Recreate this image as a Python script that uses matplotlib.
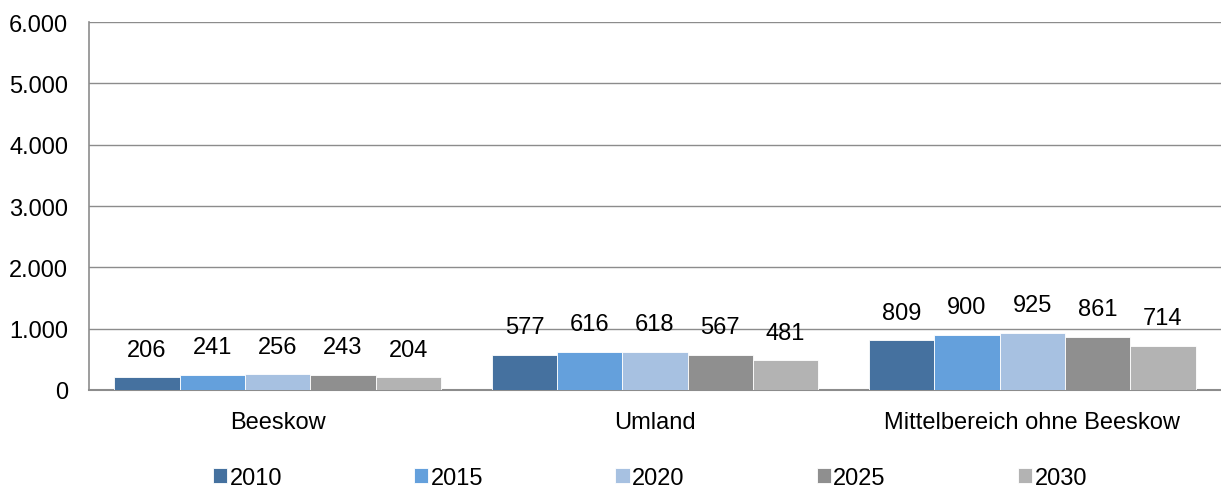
import numpy as np
import matplotlib.pyplot as plt
from matplotlib.ticker import FuncFormatter

plt.rcParams['font.family'] = ['Liberation Sans', 'DejaVu Sans']

categories = ["Beeskow", "Umland", "Mittelbereich ohne Beeskow"]
years = ["2010", "2015", "2020", "2025", "2030"]
values = {
    "2010": [206, 577, 809],
    "2015": [241, 616, 900],
    "2020": [256, 618, 925],
    "2025": [243, 567, 861],
    "2030": [204, 481, 714],
}
colors = ["#45719F", "#64A0DC", "#A7C1E1", "#8F8F8F", "#B3B3B3"]

fig = plt.figure(figsize=(12.21, 4.89), dpi=100)
ax = fig.add_axes([89 / 1221, 1 - 391 / 489, 1132 / 1221, 368 / 489])

x = np.arange(len(categories))
bw = 0.173
for i, yr in enumerate(years):
    pos = x + (i - 2) * bw
    bars = ax.bar(pos, values[yr], width=bw, color=colors[i], edgecolor="white",
                  linewidth=0.6, label=yr, zorder=3)
    for b, v in zip(bars, values[yr]):
        ax.annotate(str(v), (b.get_x() + b.get_width() / 2, v), xytext=(0, 20),
                    textcoords="offset points", ha="center", va="center", fontsize=17)

ax.set_xlim(-0.5, 2.5)
ax.set_ylim(0, 6000)
ax.set_yticks(np.arange(0, 6001, 1000))
ax.yaxis.set_major_formatter(FuncFormatter(lambda v, p: f"{int(v):,}".replace(",", ".")))
ax.set_xticks(x)
ax.set_xticklabels(categories)
ax.tick_params(axis="both", length=0, labelsize=17)
ax.tick_params(axis="x", pad=15)
ax.tick_params(axis="y", pad=15)
ax.grid(axis="y", color="#8C8C8C", linewidth=1, zorder=0)
for s in ["top", "right"]:
    ax.spines[s].set_visible(False)
ax.spines["left"].set_color("#8C8C8C")
ax.spines["bottom"].set_color("#8C8C8C")
ax.spines["left"].set_linewidth(1.2)
ax.spines["bottom"].set_linewidth(1.5)

fig.legend(loc="center", bbox_to_anchor=(650 / 1221, 1 - 479 / 489), ncol=5,
           frameon=False, fontsize=17, handlelength=0.6, handleheight=0.6,
           handletextpad=0.1, columnspacing=5.6)

fig.savefig("out.png", dpi=100)
